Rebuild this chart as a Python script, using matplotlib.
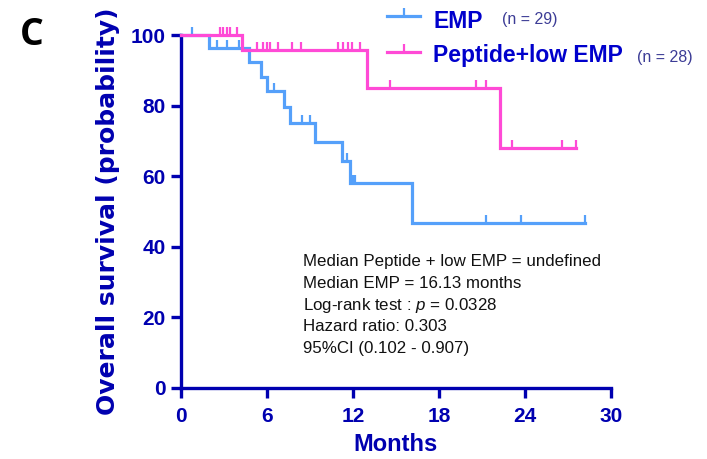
import numpy as np
import matplotlib
matplotlib.use('Agg')
import matplotlib.pyplot as plt
from matplotlib.path import Path
from matplotlib.lines import Line2D

# Datos (meses, supervivencia %)
emp_event_t = [1.95, 4.78, 5.57, 5.99, 7.22, 7.64, 9.38, 11.22, 11.80, 16.13]
emp_event_s = [96.4, 92.4, 88.2, 84.2, 79.5, 75.0, 69.7, 64.3, 58.0, 46.6]
emp_censor = [0.77, 2.50, 3.25, 4.05, 6.53, 8.43, 9.01, 11.61, 11.98, 12.15, 21.3, 23.7, 28.2]
emp_end = 28.2

pep_event_t = [4.25, 13.0, 22.25]
pep_event_s = [95.7, 85.1, 68.1]
pep_censor = [2.74, 2.97, 3.20, 3.43, 3.90, 5.34, 5.71, 5.99, 6.22, 6.80, 7.73, 8.36,
              10.98, 11.33, 11.64, 11.96, 12.50, 14.6, 20.6, 21.3, 23.07, 26.6, 27.55]
pep_end = 27.55

labels = ['EMP', 'Peptide+low EMP']
n_labels = ['(n = 29)', '(n = 28)']
x_ticks = [0, 6, 12, 18, 24, 30]
y_ticks = [0, 20, 40, 60, 80, 100]
stats_text = ['Median Peptide + low EMP = undefined',
              'Median EMP = 16.13 months',
              'Log-rank test : $p$ = 0.0328',
              'Hazard ratio: 0.303',
              '95%CI (0.102 - 0.907)']

# Colores
c_emp = '#55A0FA'
c_pep = '#FF4AD6'
c_axis = '#0000B0'
c_leg = '#0000CC'
c_n = '#3C3C96'

plt.rcParams['font.family'] = ['Liberation Sans', 'DejaVu Sans']
plt.rcParams['mathtext.fontset'] = 'custom'
plt.rcParams['mathtext.it'] = 'Liberation Sans:italic'
plt.rcParams['mathtext.rm'] = 'Liberation Sans'

# Marcador de censura: tick vertical hacia arriba
tick = Path([(0, 0), (0, 1)], [Path.MOVETO, Path.LINETO])

W, H = 707, 459
fig = plt.figure(figsize=(W / 100, H / 100), dpi=100)
ax = fig.add_axes([0.2556, 0.1553, 0.6086, 0.7684])


def km_curve(ev_t, ev_s, end):
    t = np.array([0] + ev_t + [end])
    s = np.array([100] + ev_s + [ev_s[-1]])
    return t, s


def censor_y(ev_t, ev_s, cens):
    idx = np.searchsorted(np.array(ev_t), np.array(cens), side='right')
    lev = np.array([100] + ev_s)
    return lev[idx]


for ev_t, ev_s, cens, end, col in [(emp_event_t, emp_event_s, emp_censor, emp_end, c_emp),
                                   (pep_event_t, pep_event_s, pep_censor, pep_end, c_pep)]:
    t, s = km_curve(ev_t, ev_s, end)
    ax.step(t, s, where='post', color=col, lw=2.3, solid_joinstyle='miter', zorder=3, clip_on=False)
    ax.plot(cens, censor_y(ev_t, ev_s, cens), ls='none', marker=tick, ms=11.5,
            mew=1.6, mec=col, zorder=3, clip_on=False)

# Ejes
ax.set_xlim(0, 30)
ax.set_ylim(0, 100)
ax.set_xticks(x_ticks)
ax.set_yticks(y_ticks)
for side in ['top', 'right']:
    ax.spines[side].set_visible(False)
for side in ['left', 'bottom']:
    ax.spines[side].set_color(c_axis)
    ax.spines[side].set_linewidth(2.4)
ax.tick_params(axis='both', colors=c_axis, width=2.4, length=7, labelsize=15)
ax.tick_params(axis='x', pad=7)
ax.tick_params(axis='y', pad=4)
for lab in ax.get_xticklabels() + ax.get_yticklabels():
    lab.set_fontweight('bold')

ax.set_xlabel('Months', fontsize=17, fontweight='bold', color=c_axis)
ax.xaxis.set_label_coords(0.5, -0.127)
ax.set_ylabel('Overall survival (probability)', fontsize=18, fontweight='bold', color=c_axis,
              family=['DejaVu Sans'])
ax.yaxis.set_label_coords(-0.141, 0.5)

# Texto de estadisticas, una linea por texto (paso fijo)
for i, line in enumerate(stats_text):
    y_px = 266 + 21.8 * i
    fig.text(303 / W, 1 - y_px / H, line, fontsize=12.2, color='#111111',
             ha='left', va='baseline')

# Leyenda (colocada a mano, arriba a la derecha)
for (y_px, col) in [(16, c_emp), (51.7, c_pep)]:
    yf = 1 - y_px / H
    fig.add_artist(Line2D([387 / W, 420 / W], [yf, yf], color=col, lw=2.3,
                          transform=fig.transFigure))
    fig.add_artist(Line2D([403.5 / W], [yf], ls='none', marker=tick, ms=11.5, mew=1.6,
                          mec=col, transform=fig.transFigure))
for lab, y_px in zip(labels, [28, 62]):
    fig.text(433 / W, 1 - y_px / H, lab, fontsize=16.5, fontweight='bold', color=c_leg,
             ha='left', va='baseline')
for nl, x_px, y_px in zip(n_labels, [502, 637], [24, 62]):
    fig.text(x_px / W, 1 - y_px / H, nl, fontsize=11.5, color=c_n, ha='left', va='baseline')

# Letra del panel
fig.text(0.028, 1 - 45 / H, 'C', fontsize=27, fontweight='bold', color='black',
         family=['Open Sans', 'DejaVu Sans'], ha='left', va='baseline')

fig.savefig('out.png', dpi=100)
